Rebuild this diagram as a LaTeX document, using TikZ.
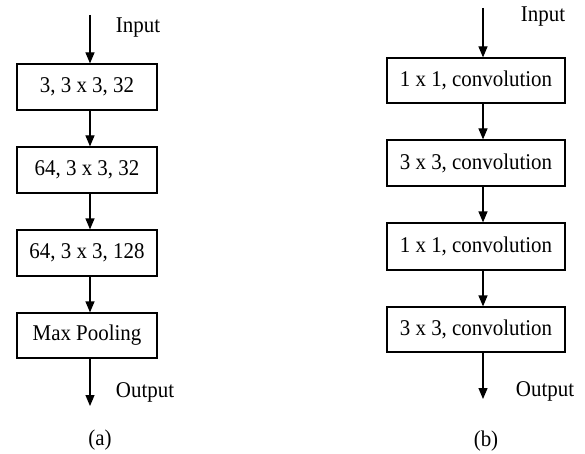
\documentclass[tikz,border=0pt]{standalone}
\usepackage{fontspec}
\setmainfont{Liberation Serif}[FakeStretch=0.93]
\usetikzlibrary{arrows.meta}
\begin{document}
\begin{tikzpicture}[x=1pt,y=-1pt,
  blk/.style={draw, line width=1.2pt, minimum height=46pt, inner sep=0pt, anchor=center},
  lbl/.style={inner sep=0pt, anchor=center},
  arr/.style={line width=1.2pt, -{Triangle[width=9pt,length=11pt]}},
  every node/.append style={font=\fontsize{22.5}{26}\selectfont}]
\useasboundingbox (0,0) rectangle (585,454);
\fill[white] (0,0) rectangle (585,454);
% left column (a)
\coordinate (ax) at (90,0);
\node[blk, minimum width=140pt] (a1) at (87,87) {3, 3 x 3, 32};
\node[blk, minimum width=140pt] (a2) at (87,170) {64, 3 x 3, 32};
\node[blk, minimum width=140pt] (a3) at (87,253) {64, 3 x 3, 128};
\node[blk, minimum width=140pt, minimum height=45pt] (a4) at (87,335.5) {Max Pooling};
\coordinate (ain) at (90,15);
\coordinate (aout) at (90,406);
\node[lbl] (ainl) at (138,28) {Input};
\node[lbl] (aoutl) at (145,392) {Output};
\node[lbl] (acap) at (100,440) {(a)};
\draw[arr] (ain) -- (a1.north -| ax);
\draw[arr] (a1.south -| ax) -- (a2.north -| ax);
\draw[arr] (a2.south -| ax) -- (a3.north -| ax);
\draw[arr] (a3.south -| ax) -- (a4.north -| ax);
\draw[arr] (a4.south -| ax) -- (aout);
% right column (b)
\coordinate (bx) at (483,0);
\node[blk, minimum width=178pt, minimum height=45pt] (b1) at (476,80.5) {1 x 1, convolution};
\node[blk, minimum width=178pt] (b2) at (476,163) {3 x 3, convolution};
\node[blk, minimum width=178pt, minimum height=47pt] (b3) at (476,246.5) {1 x 1, convolution};
\node[blk, minimum width=178pt, minimum height=45pt] (b4) at (476,329.5) {3 x 3, convolution};
\coordinate (bin) at (483,8);
\coordinate (bout) at (483,399);
\node[lbl] (binl) at (543,17) {Input};
\node[lbl] (boutl) at (545,391) {Output};
\node[lbl] (bcap) at (486,441) {(b)};
\draw[arr] (bin) -- (b1.north -| bx);
\draw[arr] (b1.south -| bx) -- (b2.north -| bx);
\draw[arr] (b2.south -| bx) -- (b3.north -| bx);
\draw[arr] (b3.south -| bx) -- (b4.north -| bx);
\draw[arr] (b4.south -| bx) -- (bout);
\end{tikzpicture}
\end{document}
